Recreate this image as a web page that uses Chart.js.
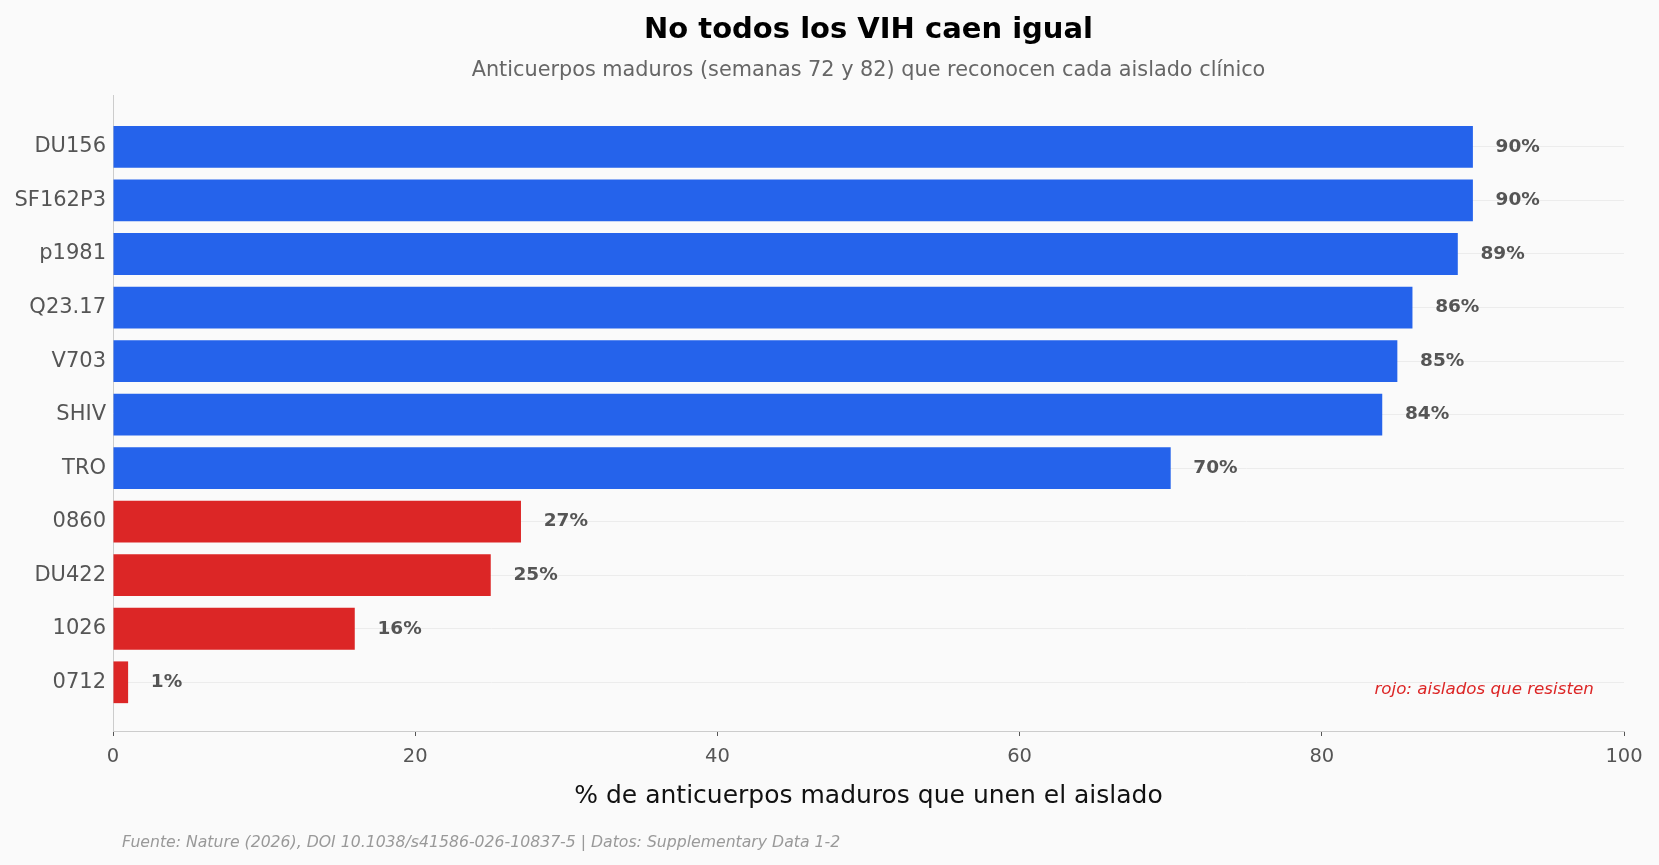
<!DOCTYPE html>
<html>
<head>
<meta charset="utf-8">
<script src="https://cdn.jsdelivr.net/npm/chart.js@4/dist/chart.umd.min.js"></script>
<style>
  html, body { margin: 0; padding: 0; background: #fafafa; }
  canvas { display: block; }
</style>
</head>
<body>
<canvas id="vihChart" width="1659" height="865"></canvas>
<script>
// aislados clínicos, de arriba a abajo
const aislados = ['DU156', 'SF162P3', 'p1981', 'Q23.17', 'V703', 'SHIV', 'TRO', '0860', 'DU422', '1026', '0712'];
// % de anticuerpos maduros que unen cada aislado
const porcentajes = [90, 90, 89, 86, 85, 84, 70, 27, 25, 16, 1];
// los que resisten van en rojo
const resisten = [false, false, false, false, false, false, false, true, true, true, true];
const xTicks = [0, 20, 40, 60, 80, 100];

const titulo = 'No todos los VIH caen igual';
const subtitulo = 'Anticuerpos maduros (semanas 72 y 82) que reconocen cada aislado clínico';
const tituloX = '% de anticuerpos maduros que unen el aislado';
const nota = 'rojo: aislados que resisten';
const fuente = 'Fuente: Nature (2026), DOI 10.1038/s41586-026-10837-5 | Datos: Supplementary Data 1-2';

const AZUL = '#2563eb';
const ROJO = '#dc2626';
const FONT = '"DejaVu Sans", sans-serif';

// fondo + todos los textos sueltos
const textosPlugin = {
  id: 'textos',
  beforeDraw(chart) {
    const ctx = chart.ctx;
    ctx.save();
    ctx.fillStyle = '#fafafa';
    ctx.fillRect(0, 0, chart.width, chart.height);
    ctx.restore();
  },
  afterDraw(chart) {
    const ctx = chart.ctx;
    const area = chart.chartArea;
    const cx = (area.left + area.right) / 2;
    const x = chart.scales.x;
    const y = chart.scales.y;
    ctx.save();
    ctx.textAlign = 'center';
    ctx.textBaseline = 'middle';

    ctx.fillStyle = '#000';
    ctx.font = 'bold 29px ' + FONT;
    ctx.fillText(titulo, cx, 30);

    ctx.fillStyle = '#666';
    ctx.font = '20.8px ' + FONT;
    ctx.fillText(subtitulo, cx, 71);

    ctx.fillStyle = '#111';
    ctx.font = '25px ' + FONT;
    ctx.fillText(tituloX, cx, 796);

    // etiquetas de valor al lado de cada barra
    ctx.textAlign = 'left';
    ctx.fillStyle = '#555';
    ctx.font = 'bold 18.5px ' + FONT;
    const meta = chart.getDatasetMeta(0);
    meta.data.forEach((bar, i) => {
      ctx.fillText(porcentajes[i] + '%', x.getPixelForValue(porcentajes[i] + 1.5), bar.y);
    });

    // nota en rojo
    ctx.textAlign = 'right';
    ctx.fillStyle = ROJO;
    ctx.font = 'italic 16.7px ' + FONT;
    ctx.fillText(nota, x.getPixelForValue(98), y.getPixelForValue(10.13));

    // fuente abajo
    ctx.textAlign = 'left';
    ctx.fillStyle = '#999';
    ctx.font = 'italic 15.7px ' + FONT;
    ctx.fillText(fuente, 122, 843);
    ctx.restore();
  }
};

const ctx = document.getElementById('vihChart').getContext('2d');
new Chart(ctx, {
  type: 'bar',
  data: {
    datasets: [{
      data: porcentajes.map((v, i) => ({ x: v, y: i })),
      backgroundColor: resisten.map(r => r ? ROJO : AZUL),
      borderWidth: 0,
      categoryPercentage: 1,
      barPercentage: 0.78
    }]
  },
  options: {
    indexAxis: 'y',
    responsive: false,
    animation: false,
    layout: { padding: { left: 0, right: 35, top: 95, bottom: 44 } },
    plugins: {
      legend: { display: false },
      tooltip: { enabled: false }
    },
    scales: {
      y: {
        type: 'linear',
        reverse: true,
        offset: false,
        min: -0.97,
        max: 10.91,
        afterFit(scale) { scale.width = 113; },
        afterBuildTicks(scale) { scale.ticks = aislados.map((_, i) => ({ value: i })); },
        ticks: {
          callback: v => aislados[v],
          color: '#555',
          font: { family: FONT, size: 21 },
          padding: 7,
          autoSkip: false
        },
        grid: { color: '#ececec', lineWidth: 1, tickLength: 0, offset: false },
        border: { color: '#cccccc', width: 1 }
      },
      x: {
        type: 'linear',
        min: 0,
        max: 100,
        afterFit(scale) { scale.height = 90; },
        afterBuildTicks(scale) { scale.ticks = xTicks.map(v => ({ value: v })); },
        ticks: {
          color: '#555',
          font: { family: FONT, size: 19.5 },
          padding: 9,
          maxRotation: 0
        },
        grid: { drawOnChartArea: false, color: '#555', tickLength: 5 },
        border: { color: '#cccccc', width: 1 }
      }
    }
  },
  plugins: [textosPlugin]
});
</script>
</body>
</html>
